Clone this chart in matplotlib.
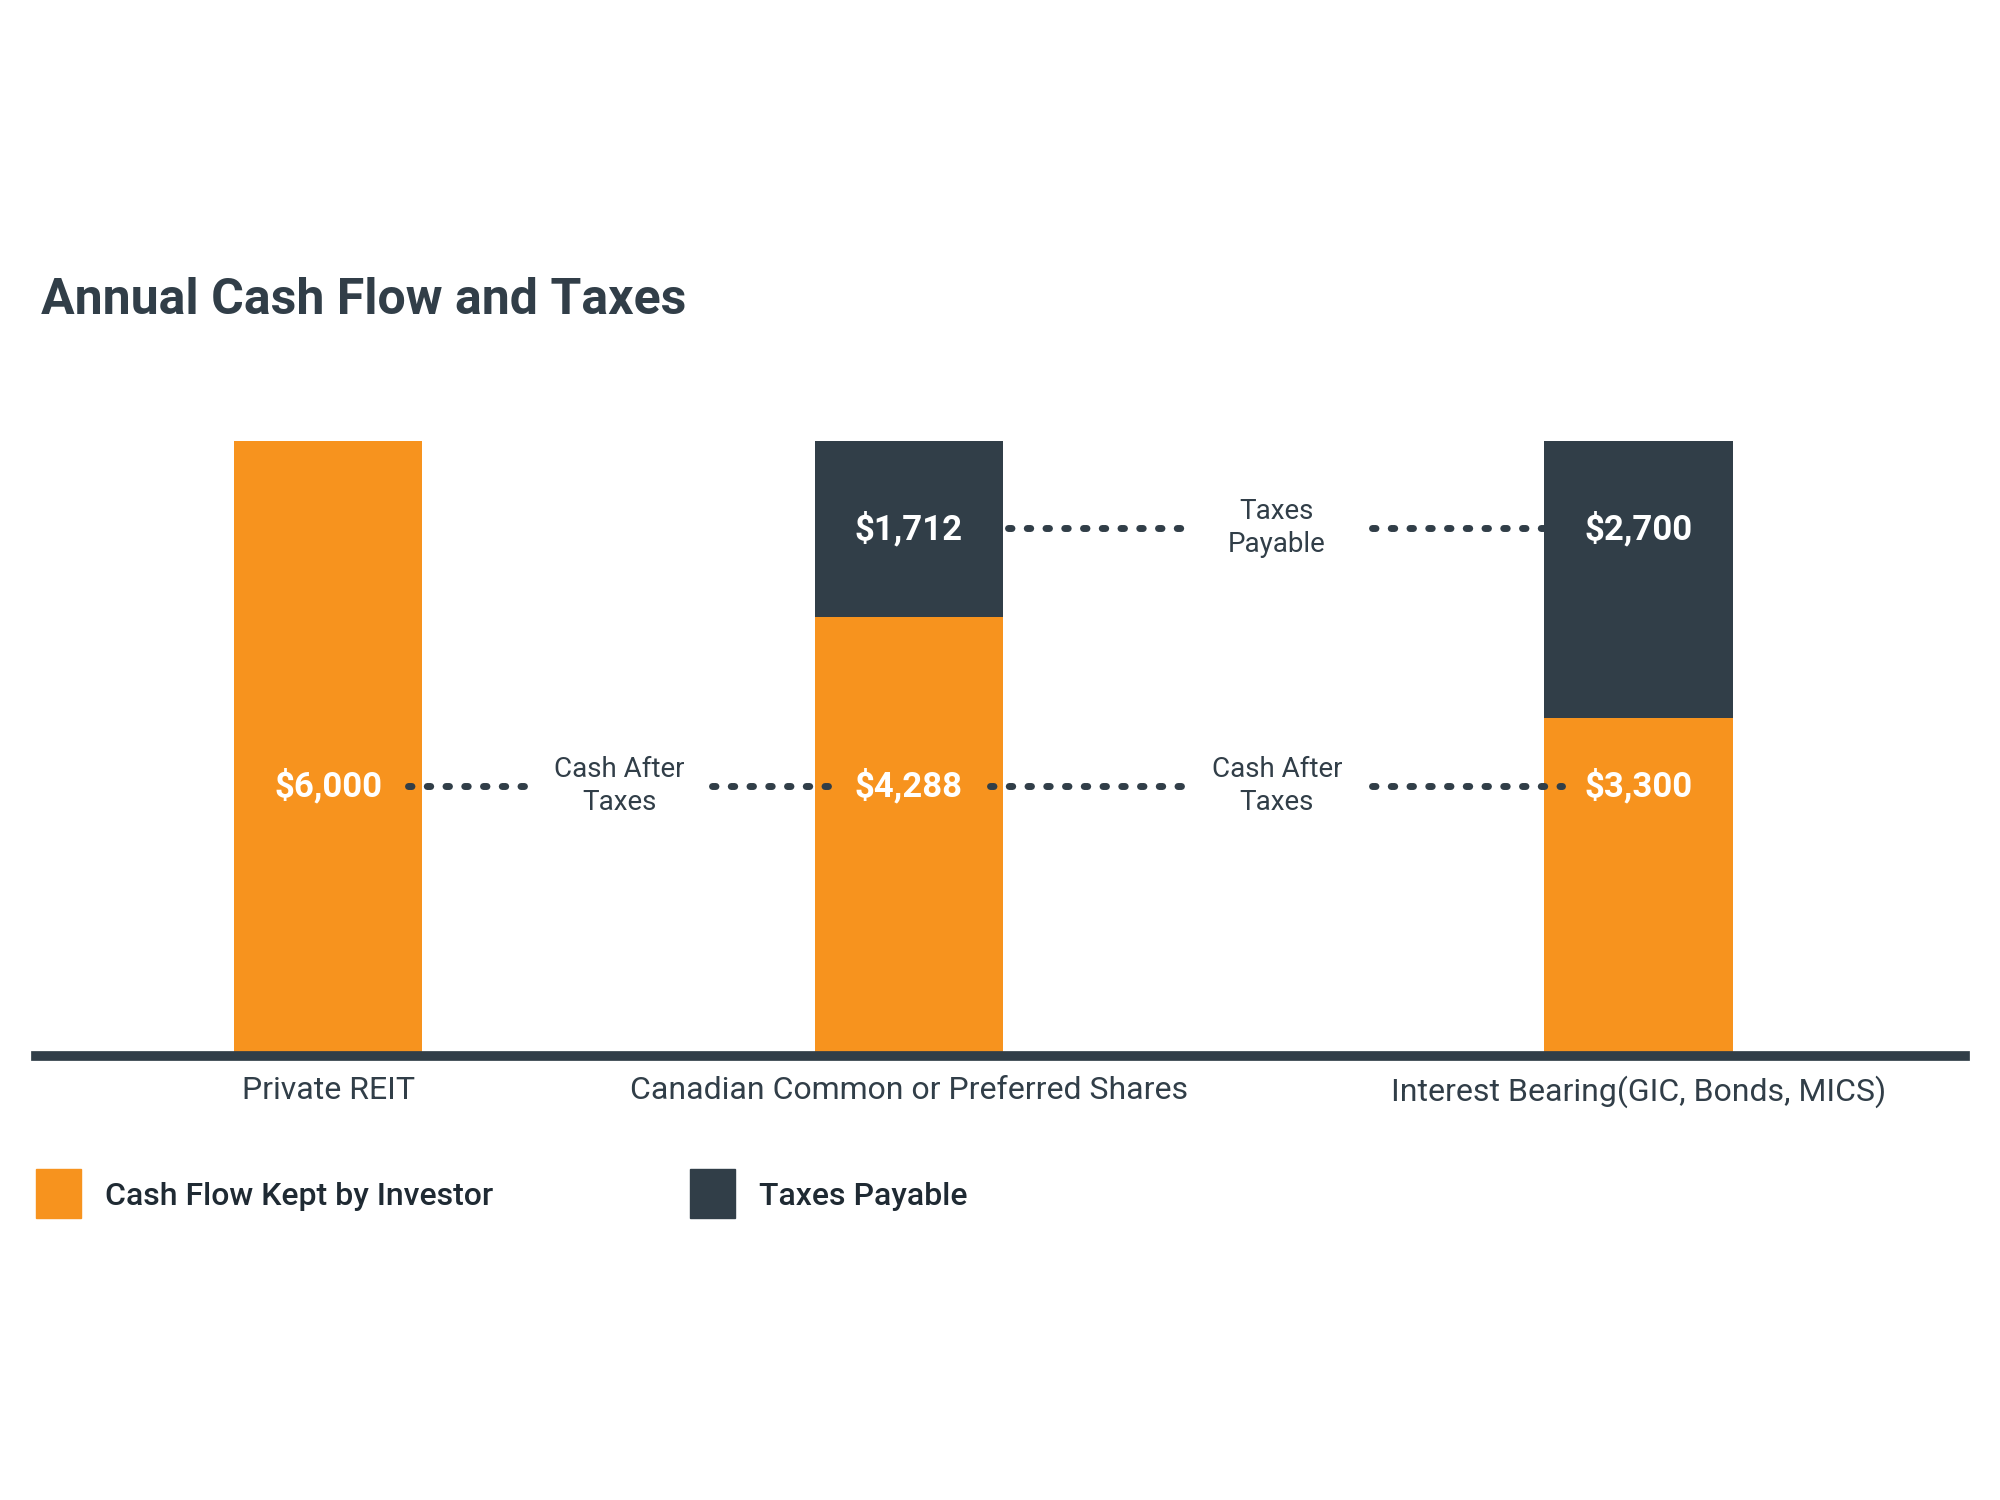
import matplotlib
matplotlib.use("Agg")
import matplotlib.pyplot as plt
from matplotlib.patches import Rectangle

plt.rcParams["font.family"] = "Roboto"

categories = ["Private REIT", "Canadian Common or Preferred Shares", "Interest Bearing(GIC, Bonds, MICS)"]
cash_kept = [6000, 4288, 3300]
taxes = [0, 1712, 2700]
value_labels_cash = ["$6,000", "$4,288", "$3,300"]
value_labels_tax = ["", "$1,712", "$2,700"]

ORANGE = "#F7931E"
DARK = "#313E48"

W, H = 1560, 1170
fig = plt.figure(figsize=(20, 15), dpi=100)
ax = fig.add_axes([28 / W, 1 - 824 / H, (1533 - 28) / W, 480 / H])
ax.set_xlim(28, 1533)
ax.set_ylim(0, 6000)

xs = [256, 709, 1278]
bw = 147
ax.bar(xs, cash_kept, width=bw, color=ORANGE, zorder=2)
ax.bar(xs, taxes, bottom=cash_kept, width=bw, color=DARK, zorder=2)

ycash = 2637
ytax = 5150
for x, lab in zip(xs, value_labels_cash):
    ax.text(x, ycash, lab, color="white", fontsize=25, fontweight="bold", ha="center", va="center", zorder=3)
for x, c, t, lab in zip(xs, cash_kept, taxes, value_labels_tax):
    if t:
        ax.text(x, ytax, lab, color="white", fontsize=25, fontweight="bold", ha="center", va="center", zorder=3)

dot = dict(color=DARK, linestyle=(0, (0.5, 2.2)), linewidth=5, solid_capstyle="round", dash_capstyle="round")
for a, b in [(318, 410), (555, 650), (772, 922), (1070, 1218)]:
    ax.plot([a, b], [ycash, ycash], **dot)
for a, b in [(786, 922), (1070, 1205)]:
    ax.plot([a, b], [ytax, ytax], **dot)

for x in (483, 996):
    ax.text(x, ycash, "Cash After\nTaxes", color=DARK, fontsize=20, ha="center", va="center", linespacing=1.3)
ax.text(996, ytax, "Taxes\nPayable", color=DARK, fontsize=20, ha="center", va="center", linespacing=1.3)

for s in ["top", "right", "left"]:
    ax.spines[s].set_visible(False)
ax.spines["bottom"].set_color(DARK)
ax.spines["bottom"].set_linewidth(7)
ax.set_yticks([])
ax.set_xticks(xs)
ax.set_xticklabels(categories, fontsize=23, color=DARK)
ax.tick_params(axis="x", length=0, pad=14)

fig.text(32 / W, 1 - 234 / H, "Annual Cash Flow and Taxes", fontsize=36, fontweight="bold",
         color=DARK, va="center", ha="left")

for x0, col, lab in [(28, ORANGE, "Cash Flow Kept by Investor"), (538, DARK, "Taxes Payable")]:
    fig.patches.append(Rectangle((x0 / W, 1 - 950 / H), 35 / W, 38 / H, transform=fig.transFigure,
                                 color=col))
    fig.text((x0 + 54) / W, 1 - 933 / H, lab, fontsize=23, fontweight="medium", color="#1f2a33",
             va="center", ha="left")

fig.savefig("out.png", dpi=100, facecolor="white")
